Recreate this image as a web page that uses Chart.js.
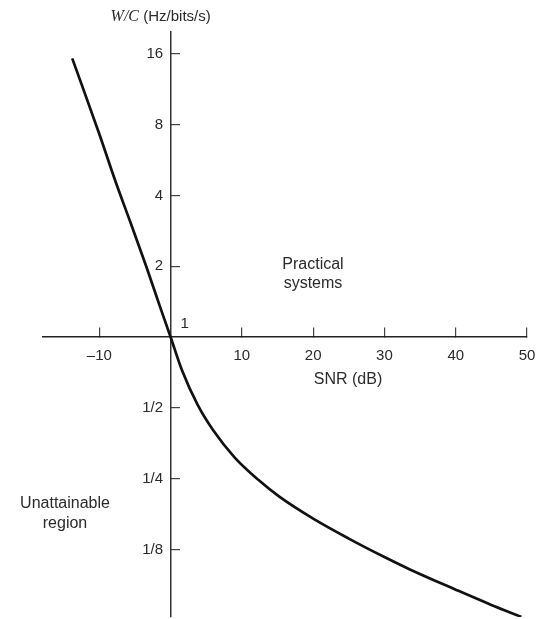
<!DOCTYPE html>
<html><head><meta charset="utf-8">
<script src="https://cdn.jsdelivr.net/npm/chart.js@4"></script>
<style>html,body{margin:0;padding:0;background:#fff}</style>
</head><body>
<canvas id="c" width="538" height="619"></canvas>
<script>
// Data
const snrDb  = [-13.8, -10, -7.8, -5.6, -3.4, -1.5, 0, 1.6, 3.8, 6, 9, 12.3, 15.3, 20, 25, 30, 33.5, 40, 45, 49.2];
const wOverC = [15.3, 7.3, 4.65, 3.05, 1.99, 1.35, 1, 0.722, 0.514, 0.40, 0.307, 0.247, 0.209, 0.169, 0.139, 0.116, 0.103, 0.0843, 0.0726, 0.0646];
const xTickValues = [-10, 10, 20, 30, 40, 50];
const xTickLabels = ['\u201310', '10', '20', '30', '40', '50'];
const yTickValues = [0.125, 0.25, 0.5, 2, 4, 8, 16];
const yTickLabels = ['1/8', '1/4', '1/2', '2', '4', '8', '16'];

const SANS = '"Liberation Sans", Arial, Helvetica, sans-serif';
const TXT = '#2a2a2a';

const textPlugin = {
  id: 'texts',
  afterDraw(chart) {
    const ctx = chart.ctx;
    const xs = chart.scales.x, ys = chart.scales.y;
    const ox = xs.getPixelForValue(0), oy = ys.getPixelForValue(1);
    ctx.save();
    ctx.fillStyle = TXT;
    ctx.textBaseline = 'middle';
    // y-axis title
    ctx.textAlign = 'left';
    ctx.font = 'italic 16px "Liberation Serif", "Times New Roman", serif';
    const t1 = 'W/C';
    const tx = ox - 60;
    ctx.fillText(t1, tx, 17);
    const w1 = ctx.measureText(t1).width;
    ctx.font = '15px ' + SANS;
    ctx.fillText(' (Hz/bits/s)', tx + w1, 17);
    // "1" at origin
    ctx.font = '15px ' + SANS;
    ctx.fillText('1', ox + 10, oy - 13);
    // x-axis title
    ctx.textAlign = 'center';
    ctx.font = '16px ' + SANS;
    ctx.fillText('SNR (dB)', 348, 380);
    // region labels
    ctx.fillText('Practical', 313, 265);
    ctx.fillText('systems', 313, 284);
    ctx.fillText('Unattainable', 65, 504);
    ctx.fillText('region', 65, 524);
    ctx.restore();
  }
};

const zeroPad = (s) => { s.paddingTop = 0; s.paddingBottom = 0; s.paddingLeft = 0; s.paddingRight = 0; };

new Chart(document.getElementById('c'), {
  type: 'scatter',
  data: {
    datasets: [{
      data: snrDb.map((x, i) => ({ x: x, y: wOverC[i] })),
      showLine: true,
      borderColor: '#111',
      borderWidth: 2.7,
      pointRadius: 0,
      cubicInterpolationMode: 'monotone',
      fill: false
    }]
  },
  options: {
    responsive: false,
    animation: false,
    layout: { padding: { left: 43, right: 11, top: 32, bottom: 2 } },
    plugins: { legend: { display: false }, tooltip: { enabled: false } },
    scales: {
      x: {
        type: 'linear',
        min: -17.9, max: 50,
        position: { y: 1 },
        afterBuildTicks: (s) => { s.ticks = xTickValues.map(v => ({ value: v })); },
        afterFit: zeroPad,
        grid: { drawOnChartArea: false, drawTicks: true, tickLength: -10, color: '#444', lineWidth: 1.2 },
        border: { display: true, color: '#222', width: 1.6 },
        ticks: {
          padding: 20,
          color: TXT,
          font: { family: SANS, size: 15 },
          maxRotation: 0,
          autoSkip: false,
          callback: (v, i) => xTickLabels[i]
        }
      },
      y: {
        type: 'logarithmic',
        min: 0.0645, max: 19.8,
        position: { x: 0 },
        afterBuildTicks: (s) => { s.ticks = yTickValues.map(v => ({ value: v })); },
        afterFit: zeroPad,
        grid: { drawOnChartArea: false, drawTicks: true, tickLength: -10, color: '#444', lineWidth: 1.2 },
        border: { display: true, color: '#333', width: 1.5 },
        ticks: {
          padding: 17,
          color: TXT,
          font: { family: SANS, size: 15 },
          autoSkip: false,
          callback: (v, i) => yTickLabels[i] + '\u2002'
        }
      }
    }
  },
  plugins: [textPlugin]
});
</script>
</body></html>
